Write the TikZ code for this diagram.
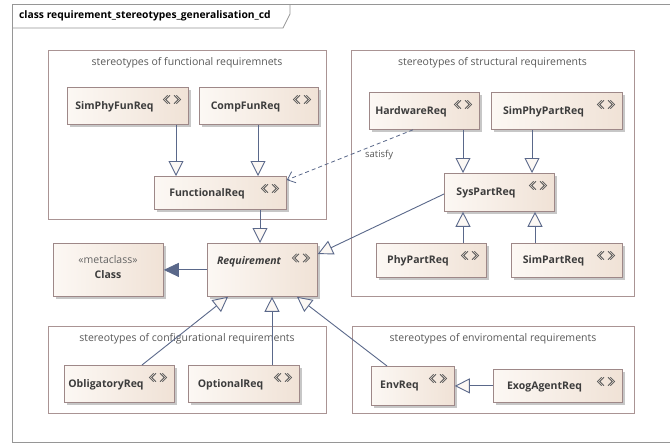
\documentclass[tikz,border=0pt]{standalone}
\usepackage{fontspec}
\setmainfont{Open Sans}
\usetikzlibrary{arrows.meta,shadows,calc}
\definecolor{lnc}{RGB}{90,104,138}
\definecolor{bord}{RGB}{158,136,136}
\definecolor{pkg}{RGB}{170,148,148}
\definecolor{txt}{RGB}{60,60,60}
\definecolor{fl}{RGB}{252,248,244}
\definecolor{fr}{RGB}{240,226,214}
\definecolor{frame}{RGB}{150,150,150}
\tikzset{
  cls/.style={draw=bord, line width=0.8pt, left color=fl, right color=fr, inner sep=0pt,
    drop shadow={shadow xshift=2.5pt, shadow yshift=-2.5pt, fill=black!22, opacity=1}},
  clsname/.style={font=\fontsize{10.5}{12}\selectfont\bfseries, text=txt, inner sep=0pt},
  pkgbox/.style={draw=pkg, line width=0.8pt, inner sep=0pt},
  pkgtitle/.style={font=\fontsize{10.5}{12}\selectfont, text=txt!85, inner sep=0pt},
  gen/.style={draw=lnc, line width=0.9pt, -{Triangle[open, length=15pt, width=15pt, fill=fl]}},
  ext/.style={draw=lnc, line width=0.9pt, -{Triangle[length=15pt, width=14pt]}},
  sat/.style={draw=lnc, line width=0.8pt, dash pattern=on 4pt off 3pt, -{Straight Barb[length=7pt, width=12pt]}},
  ster/.pic={
    \draw[txt!85, line width=0.8pt, line join=miter]
      (-4.4,-4.2) -- (-8.6,0) -- (-4.4,4.2)
      (-2.0,-4.2) -- (-6.2,0) -- (-2.0,4.2)
      (2.0,-4.2) -- (6.2,0) -- (2.0,4.2)
      (4.4,-4.2) -- (8.6,0) -- (4.4,4.2);
  },
}
\newcommand\clsbox[6]{%
  \node[cls, minimum width={#4-#2}, minimum height={#5-#3}, anchor=north west] (#1) at (#2,#3) {};
  \node[clsname] (#1-t) at ({(#2+#4-28)/2+1},{(#3+#5)/2+1}) {#6};
  \pic (#1-s) at ({#4-16},{#3+12.5}) {ster};
}
\newcommand\pkgbox[6]{%
  \node[pkgbox, minimum width={#4-#2}, minimum height={#5-#3}, anchor=north west] (#1) at (#2,#3) {};
  \node[pkgtitle] (#1-t) at ({(#2+#4)/2},{#3+13}) {#6};
}
\begin{document}
\begin{tikzpicture}[x=1pt,y=-1pt]
\useasboundingbox (0,0) rectangle (670,445);
\clip (0,0) rectangle (670,445);
\fill[white] (0,0) rectangle (670,445);
% outer frame
\draw[frame, line width=0.8pt] (12,4) rectangle (690,442);
\draw[frame, line width=0.8pt] (12,28) -- (283,28) -- (290,14) -- (290,4);
\node[anchor=west, font=\fontsize{10.3}{12}\selectfont\bfseries, text=black, inner sep=0pt] (title) at (19,16) {class requirement\_stereotypes\_generalisation\_cd};
% packages
\pkgbox{pf}{48}{50}{326}{219}{stereotypes of functional requiremnets}
\pkgbox{ps}{351}{50}{634}{296}{stereotypes of structural requirements}
\pkgbox{pc}{48}{326}{326}{413}{stereotypes of configurational requirements}
\pkgbox{pe}{352}{326}{634}{413}{stereotypes of enviromental requirements}
% classes
\clsbox{sppf}{67}{87}{188}{124}{SimPhyFunReq}
\clsbox{cfr}{199}{87}{318}{124}{CompFunReq}
\clsbox{fr}{154}{176}{286}{209}{FunctionalReq}
\clsbox{hw}{369}{92}{479}{129}{HardwareReq}
\clsbox{sppr}{491}{92}{622}{129}{SimPhyPartReq}
\clsbox{spr}{444}{173}{554}{211}{SysPartReq}
\clsbox{ppr}{376}{243}{486}{277}{PhyPartReq}
\clsbox{simpr}{511}{243}{622}{277}{SimPartReq}
\node[cls, minimum width=110, minimum height=53, anchor=north west] (req) at (207,243) {};
\node[clsname, font=\fontsize{10.5}{12}\selectfont\bfseries\itshape] (req-t) at (249,262) {Requirement};
\pic (req-s) at (301,258) {ster};
\node[cls, minimum width=110, minimum height=53, anchor=north west] (cl) at (53,243) {};
\node[pkgtitle, text=txt!80] (cl-st) at (108,260) {«metaclass»};
\node[clsname] (cl-t) at (108,275) {Class};
\clsbox{obl}{64}{365}{174}{402}{ObligatoryReq}
\clsbox{opt}{188}{365}{299}{402}{OptionalReq}
\clsbox{env}{371}{366}{454}{405}{EnvReq}
\clsbox{exog}{493}{369}{622}{402}{ExogAgentReq}
% connectors
\draw[gen] ([xshift=109pt]sppf.south west) -- ([xshift=109pt]sppf.south west |- fr.north);
\draw[gen] ([xshift=59pt]cfr.south west) -- ([xshift=59pt]cfr.south west |- fr.north);
\draw[sat] ([xshift=44pt]hw.south west) -- ([yshift=-4pt]fr.north east) node[pos=0.3, below, font=\fontsize{9.5}{11}\selectfont, text=txt!85, xshift=4pt, yshift=-2pt] (satl) {satisfy};
\draw[gen] ([xshift=94pt]hw.south west) -- ([xshift=94pt]hw.south west |- spr.north);
\draw[gen] ([xshift=41pt]sppr.south west) -- ([xshift=41pt]sppr.south west |- spr.north);
\draw[gen] ([xshift=87pt]ppr.north west) -- ([xshift=87pt]ppr.north west |- spr.south);
\draw[gen] ([xshift=24pt]simpr.north west) -- ([xshift=24pt]simpr.north west |- spr.south);
\draw[gen] ([yshift=-21pt]spr.north west) -- ([yshift=-11pt]req.north east);
\draw[gen] ([xshift=106pt]fr.south west) -- ([xshift=106pt]fr.south west |- req.north);
\draw[ext] (req.west |- cl.east) -- (cl.east);
\draw[gen] ([xshift=78pt]obl.north west) -- ([xshift=21pt]req.south west);
\draw[gen] ([xshift=84pt]opt.north west) -- ([xshift=84pt]opt.north west |- req.south);
\draw[gen] ([xshift=16pt]env.north west) -- ([xshift=90pt]req.south west);
\draw[gen] (exog.west |- env.east) -- (env.east);
\end{tikzpicture}
\end{document}
